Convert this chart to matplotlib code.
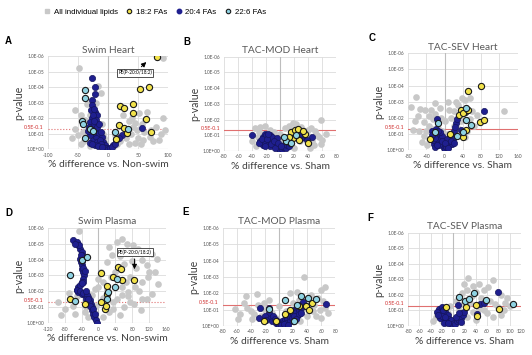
import numpy as np
import matplotlib.pyplot as plt
from matplotlib.lines import Line2D

# y values are -log10(p), x values are % difference
A_gray = [(-49, 5.2), (92, 5.85), (-17, 4.1), (-12, 3.6), (-55, 2.52), (-45, 2.2), (-38, 1.9), (-30, 2.2),
          (-10, 1.6), (92, 2.0), (57, 1.6), (80, 1.4), (48, 1.2), (60, 1.1), (40, 2.0), (35, 1.8), (25, 2.2),
          (65, 2.4), (88, 1.0), (50, 0.7), (70, 0.8), (30, 0.7), (20, 0.5), (15, 0.3), (-5, 0.4), (-15, 0.8),
          (-25, 0.6), (-40, 0.5), (-50, 0.9), (-55, 1.3), (10, 0.2), (5, 0.1), (-3, 0.1), (45, 0.4), (55, 0.3),
          (75, 0.5), (95, 1.2), (62, 1.9), (42, 1.4), (-35, 1.2), (-20, 1.2), (28, 1.3), (0, 0.05), (-45, 0.3),
          (-30, 0.2), (35, 0.3), (85, 0.6), (52, 2.3), (-8, 1.0), (18, 1.5), (72, 1.2), (-60, 0.7), (-35, 2.9),
          (-20, 3.0), (38, 1.0), (25, 0.9), (12, 0.9), (-42, 1.1), (58, 0.6), (45, 1.7), (-6, 0.7)]
A_navy = [(-27, 4.56), (-22, 4.02), (-21, 3.53), (-27, 3.16), (-27, 2.84), (-22, 2.41), (-19, 2.19), (-27, 1.98),
          (-30, 1.77), (-24, 1.55), (-22, 1.23), (-16, 1.0), (-10, 0.8), (-8, 0.48), (-5, 0.26), (-2, 0.05),
          (9, 0.26), (14, 0.58), (23, 0.9), (56, 1.33), (-29, 2.5), (-25, 2.2), (-20, 1.9), (-32, 1.4),
          (-28, 1.2), (-25, 0.95), (-30, 0.9), (-20, 0.7), (-26, 0.5), (-18, 0.45), (-14, 0.6), (-12, 0.3),
          (-22, 0.25), (-16, 0.2), (-8, 0.15), (-4, 0.1), (0, 0.02), (3, 0.08), (6, 0.15), (-18, 1.4),
          (-15, 1.6), (-24, 1.8), (-12, 1.1), (-30, 0.4), (-10, 0.15), (12, 0.35), (18, 0.7), (-33, 1.15),
          (-26, 0.3), (-24, 2.6)]
A_yellow = [(81, 5.95), (53, 3.85), (68, 3.98), (20, 2.77), (26, 2.63), (42, 2.94), (41, 2.3), (64, 1.92),
            (19, 1.55), (26, 1.33), (72, 1.12), (14, 0.62), (31, 1.01)]
A_cyan = [(-38, 3.8), (-39, 3.27), (-44, 1.83), (-42, 1.6), (-38, 0.69), (12, 1.12), (34, 1.27), (-30, 1.3),
          (-25, 1.15)]

B_gray = [(59, 2.0), (19, 1.77), (22, 1.7), (-36, 1.45), (-21, 1.6), (7, 1.45), (30, 1.5), (50, 1.24),
          (40, 1.3), (-30, 1.2), (-15, 1.3), (12, 1.6), (25, 1.1), (35, 0.8), (45, 0.6), (55, 0.9), (60, 0.7),
          (-40, 0.6), (-32, 0.9), (-25, 0.4), (-10, 0.6), (5, 0.3), (15, 0.5), (20, 0.2), (28, 0.6), (38, 1.0),
          (48, 0.4), (-5, 0.9), (0, 1.1), (-18, 1.0), (10, 0.9), (33, 1.35), (-28, 1.5), (65, 1.1), (42, 0.2),
          (-35, 0.3), (52, 1.0), (44, 1.45), (16, 1.3), (-8, 1.2), (24, 1.55), (58, 0.45), (3, 0.7)]
B_navy = [(-40, 1.0), (45, 0.9), (33, 0.9), (26, 1.2), (-28, 0.6), (-25, 0.9), (-22, 1.1), (-20, 0.7),
          (-18, 0.5), (-16, 0.9), (-14, 1.0), (-12, 0.6), (-10, 0.8), (-8, 0.4), (-6, 0.6), (-4, 0.3),
          (-2, 0.15), (0, 0.05), (2, 0.1), (4, 0.25), (6, 0.35), (8, 0.2), (10, 0.4), (12, 0.3), (-24, 0.4),
          (-20, 1.0), (-15, 0.3), (-11, 0.9), (-30, 0.5), (-5, 0.8), (14, 0.5), (30, 0.8), (28, 1.0), (38, 0.7),
          (-26, 0.75), (-22, 0.45), (-18, 0.75), (-13, 0.45), (-9, 0.6), (-7, 0.2), (-3, 0.5), (1, 0.3),
          (-17, 1.1), (-21, 0.3)]
B_yellow = [(15, 1.2), (21, 1.3), (25, 1.4), (35, 1.1), (18, 0.8), (27, 0.7), (40, 0.5), (32, 1.25), (12, 0.9)]
B_cyan = [(8, 0.6), (16, 0.5), (22, 1.0), (5, 0.9)]

C_gray = [(-62, 3.29), (-73, 2.68), (-53, 2.57), (-43, 2.47), (-22, 2.26), (131, 2.4), (-69, 1.23), (-44, 1.75),
          (-30, 2.5), (-20, 2.9), (-10, 2.6), (10, 2.5), (25, 3.0), (45, 3.1), (55, 3.2), (-65, 1.8), (-55, 1.2),
          (-50, 0.5), (-35, 1.5), (-25, 1.9), (-15, 1.4), (0, 1.8), (15, 2.0), (20, 1.5), (35, 1.8), (30, 2.8),
          (40, 2.3), (60, 2.4), (65, 1.5), (50, 1.2), (-45, 0.9), (-38, 0.3), (-5, 1.2), (5, 1.0), (15, 0.6),
          (25, 0.9), (45, 0.8), (70, 2.2), (8, 3.0), (-58, 2.1), (-35, 2.1), (-8, 2.0), (20, 2.4), (38, 3.2),
          (55, 1.9), (-28, 1.3), (32, 1.3), (-40, 1.2)]
C_navy = [(87, 2.43), (-16, 1.95), (25, 1.68), (36, 1.23), (-28, 1.2), (-25, 0.9), (-22, 1.1), (-20, 0.6),
          (-18, 1.3), (-16, 0.8), (-14, 0.5), (-12, 1.0), (-10, 0.7), (-8, 0.4), (-6, 0.9), (-4, 0.3),
          (-2, 0.15), (0, 0.05), (3, 0.2), (6, 0.4), (9, 0.6), (12, 0.8), (15, 1.0), (18, 0.7), (20, 1.2),
          (23, 1.45), (-24, 0.4), (-30, 0.7), (-20, 0.2), (10, 0.3), (28, 1.9), (-12, 0.3), (5, 0.7), (16, 0.4),
          (-26, 0.6), (-22, 0.75), (-17, 0.35), (-9, 1.1), (-6, 0.55), (2, 0.45), (8, 0.15), (13, 0.55),
          (20, 0.45), (-28, 0.95), (-14, 1.2)]
C_yellow = [(80, 3.95), (51, 3.66), (35, 2.47), (45, 2.37), (32, 2.15), (40, 2.3), (51, 2.47), (78, 1.75),
            (87, 1.85), (11, 1.0), (40, 0.82), (-33, 0.7), (46, 1.23)]
C_cyan = [(46, 2.63), (-15, 1.7), (46, 1.89), (58, 1.54), (-22, 1.13), (28, 0.9), (40, 1.1)]

D_gray = [(-47, 5.8), (43, 5.12), (55, 5.33), (67, 5.01), (82, 4.9), (94, 4.7), (110, 4.49), (126, 4.38),
          (138, 4.06), (102, 3.96), (114, 3.64), (134, 3.22), (118, 2.9), (142, 2.48), (102, 2.59), (86, 2.27),
          (71, 1.96), (55, 1.75), (75, 1.33), (102, 1.54), (126, 1.85), (31, 4.27), (19, 3.85), (-1, 2.8),
          (-8, 2.17), (-16, 1.75), (-32, 0.7), (-80, 0.9), (-88, 0.49), (-95, 1.33), (24, 4.8), (60, 3.7),
          (75, 2.9), (40, 3.2), (55, 2.3), (95, 2.0), (115, 1.5), (70, 1.7), (30, 2.9), (20, 2.1), (45, 1.5),
          (85, 1.2), (60, 1.0), (35, 0.9), (100, 0.8), (10, 1.6), (0, 2.3), (-20, 1.8), (-30, 1.0), (-60, 1.1),
          (-70, 1.9), (-55, 0.6), (-25, 0.4), (10, 0.4), (25, 0.7), (50, 0.5), (5, 3.2), (-5, 1.1), (90, 3.5),
          (120, 3.2), (50, 4.2), (80, 3.9), (65, 2.6), (35, 1.3), (10, 2.6), (-50, 1.7)]
D_navy = [(-60, 5.22), (-52, 5.12), (-48, 4.9), (-44, 4.7), (-40, 4.49), (-40, 4.28), (-44, 4.06), (-42, 3.85),
          (-40, 3.64), (-38, 3.43), (-36, 3.22), (-34, 3.01), (-36, 2.8), (-40, 2.59), (-48, 2.27), (-52, 2.06),
          (-48, 1.96), (-40, 1.85), (-32, 1.75), (-24, 1.64), (-20, 1.43), (-18, 1.22), (-16, 1.01), (-15, 0.8),
          (-12, 0.59), (-10, 0.38), (-7, 0.17), (-4, 0.03), (-50, 2.1), (-44, 2.0), (-36, 1.9), (-28, 1.8),
          (-44, 2.4), (-36, 2.6), (-30, 1.5), (-22, 1.3), (-26, 1.5), (-20, 1.1), (-12, 0.9), (-8, 0.6),
          (-46, 4.9), (-56, 5.0), (-42, 4.3), (-38, 3.9), (-36, 3.5), (-33, 3.3), (-38, 2.5), (-30, 2.0)]
D_yellow = [(7, 3.18), (47, 3.54), (53, 3.43), (35, 2.9), (55, 2.7), (85, 2.7), (19, 2.34), (19, 1.85),
            (-68, 1.54), (-32, 1.22), (7, 1.33), (15, 0.86), (18, 1.1)]
D_cyan = [(-40, 3.96), (-28, 4.17), (-68, 3.01), (-56, 1.37), (23, 1.96), (43, 2.8), (39, 2.27), (20, 1.54)]

E_gray = [(36, 3.0), (66, 2.38), (60, 2.2), (-47, 1.84), (-32, 1.97), (-63, 1.05), (-55, 0.7), (-40, 0.9),
          (-30, 1.3), (-20, 1.0), (-50, 1.4), (-38, 0.4), (-25, 0.6), (-10, 0.8), (0, 1.2), (10, 0.9),
          (20, 1.4), (28, 1.6), (45, 1.9), (50, 1.3), (55, 1.7), (65, 1.1), (70, 0.8), (60, 0.5), (40, 0.6),
          (30, 0.3), (-15, 1.6), (15, 2.0), (25, 2.1), (-5, 0.5), (5, 0.3), (35, 1.1), (48, 0.9), (58, 1.0),
          (-45, 1.1), (-35, 0.7), (-22, 1.4), (42, 1.4), (62, 1.5), (52, 0.6), (-58, 0.4), (18, 1.0)]
E_navy = [(67, 1.35), (-27, 1.09), (-28, 0.47), (-15, 0.8), (-12, 0.5), (-10, 0.3), (-8, 0.6), (-5, 0.2),
          (-2, 0.1), (0, 0.05), (2, 0.15), (4, 0.3), (6, 0.2), (8, 0.45), (10, 0.6), (12, 0.4), (14, 0.75),
          (16, 0.55), (18, 0.9), (20, 0.7), (22, 1.0), (24, 0.85), (26, 1.15), (28, 0.95), (30, 1.3),
          (32, 1.1), (34, 1.45), (-20, 0.6), (-18, 0.35), (20, 0.3), (26, 0.6), (10, 0.2), (-14, 1.1), (38, 1.2),
          (-6, 0.4), (-3, 0.3), (3, 0.05), (7, 0.1), (15, 0.3), (18, 0.5), (22, 0.6), (28, 0.7), (32, 0.8),
          (13, 0.05), (24, 0.4)]
E_yellow = [(-22, 0.27), (16, 1.0), (38, 1.23), (47, 1.43), (-4, 0.3), (8, 0.7), (28, 1.2), (42, 1.0)]
E_cyan = [(9, 1.6), (32, 1.8), (41, 1.7), (52, 1.64), (-14, 1.05), (21, 0.27), (25, 1.3)]

F_gray = [(27, 3.09), (71, 2.94), (20, 2.7), (35, 2.6), (40, 2.2), (55, 2.3), (62, 2.5), (85, 2.0), (95, 1.8),
          (50, 1.8), (15, 2.1), (5, 1.6), (-5, 1.3), (-15, 1.1), (-25, 0.9), (-30, 0.6), (-35, 0.3), (30, 1.5),
          (45, 1.1), (60, 0.8), (75, 1.4), (90, 1.0), (100, 1.3), (70, 0.6), (40, 0.4), (25, 0.6), (-20, 0.3),
          (10, 1.0), (65, 1.6), (80, 1.2), (55, 1.0), (33, 1.9), (25, 2.3), (45, 2.7), (18, 1.4), (50, 1.4),
          (-10, 0.8), (35, 0.9), (85, 0.7), (92, 1.5)]
F_navy = [(80, 2.18), (8, 1.36), (42, 0.78), (47, 1.43), (55, 1.45), (-25, 1.1), (-22, 0.8), (-20, 1.2),
          (-18, 0.5), (-15, 0.9), (-12, 0.3), (-10, 0.7), (-8, 0.45), (-6, 0.2), (-4, 0.35), (-2, 0.1), (0, 0.05),
          (2, 0.2), (4, 0.1), (6, 0.3), (8, 0.45), (10, 0.35), (12, 0.6), (14, 0.5), (16, 0.8), (18, 0.7),
          (-24, 0.5), (-16, 0.2), (5, 0.6), (-28, 0.9), (-20, 0.65), (-14, 0.55), (-10, 0.2), (-26, 0.7),
          (-18, 1.0), (14, 0.25), (20, 0.9), (11, 0.8)]
F_yellow = [(-12, 1.25), (23, 1.21), (40, 1.36), (82, 1.08), (43, 0.65)]
F_cyan = [(10, 1.84), (21, 1.62), (28, 1.73), (37, 2.12), (59, 1.68), (106, 1.4)]

TITLES = ["Swim Heart", "TAC-MOD Heart", "TAC-SEV Heart", "Swim Plasma", "TAC-MOD Plasma", "TAC-SEV Plasma"]
LETTERS = ["A", "B", "C", "D", "E", "F"]
XLABELS = ["% difference vs. Non-swim", "% difference vs. Sham", "% difference vs. Sham",
           "% difference vs. Non-swim", "% difference vs. Sham", "% difference vs. Sham"]
XTICKS = [np.arange(-100, 101, 50), np.arange(-80, 81, 20), np.arange(-80, 161, 40),
          np.arange(-120, 161, 40), np.arange(-80, 81, 20), np.arange(-80, 121, 20)]
YTICK_LABELS = ["1.0E+00", "1.0E-01", "1.0E-02", "1.0E-03", "1.0E-04", "1.0E-05", "1.0E-06"]
SIG_LINE = 1.3  # p = 0.05
ANNOT = "PE(P-20:0/18:2)"

panel_data = [
    (A_gray, A_navy, A_yellow, A_cyan), (B_gray, B_navy, B_yellow, B_cyan), (C_gray, C_navy, C_yellow, C_cyan),
    (D_gray, D_navy, D_yellow, D_cyan), (E_gray, E_navy, E_yellow, E_cyan), (F_gray, F_navy, F_yellow, F_cyan),
]

# axes rectangles in figure fraction
rects = [(0.090, 0.580, 0.226, 0.262), (0.421, 0.575, 0.211, 0.265), (0.767, 0.577, 0.206, 0.273),
         (0.090, 0.090, 0.222, 0.268), (0.419, 0.082, 0.211, 0.276), (0.767, 0.082, 0.212, 0.262)]

GRAY = '#c8c8c8'
NAVY = '#1f1f8f'
YELLOW = '#f2e24a'
CYAN = '#8fd3e3'
EDGE = '#1a1a1a'
MS = 20

plt.rcParams['font.family'] = ['Lato', 'DejaVu Sans']
fig = plt.figure(figsize=(5.32, 3.55), dpi=100)

for i, (rect, data) in enumerate(zip(rects, panel_data)):
    ax = fig.add_axes(rect)
    gray, navy, yellow, cyan = [np.array(d, dtype=float) for d in data]
    ax.scatter(gray[:, 0], gray[:, 1], s=MS + 3, color=GRAY, linewidths=0, zorder=2)
    ax.scatter(navy[:, 0], navy[:, 1], s=MS, color=NAVY, edgecolors='#15155e', linewidths=0.5, zorder=3)
    ax.scatter(yellow[:, 0], yellow[:, 1], s=MS, color=YELLOW, edgecolors=EDGE, linewidths=0.8, zorder=4)
    ax.scatter(cyan[:, 0], cyan[:, 1], s=MS, color=CYAN, edgecolors=EDGE, linewidths=0.8, zorder=4)

    xt = XTICKS[i]
    ax.set_xlim(xt[0], xt[-1])
    ax.set_ylim(0, 6)
    ax.set_xticks(xt)
    ax.set_xticklabels([str(v) for v in xt], fontsize=3.6, color='#555555')
    ax.set_yticks(range(7))
    ax.set_yticklabels(YTICK_LABELS, fontsize=3.4, color='#555555')
    ax.tick_params(length=0, pad=2.5)
    for s in ax.spines.values():
        s.set_visible(False)
    ax.grid(True, color='#dcdcdc', linewidth=0.6, zorder=0)
    ax.set_axisbelow(True)
    ax.axvline(0, color='#bdbdbd', linewidth=0.8, zorder=1)
    ax.axhline(0, color='#bdbdbd', linewidth=0.8, zorder=1)

    ls = ':' if i in (0, 3) else '-'
    ax.axhline(SIG_LINE, color='#e07070', linewidth=0.8, linestyle=ls, zorder=1)
    ax.text(-0.035, SIG_LINE + 0.12, "0.5E-0.1", transform=ax.get_yaxis_transform(), ha='right',
            va='center', fontsize=3.8, color='#d03030')

    ax.set_title(TITLES[i], fontsize=7.3, color='#595959', pad=2.5)
    ax.set_xlabel(XLABELS[i], fontsize=7.4, color='#404040', labelpad=2)
    ax.set_ylabel("p-value", fontsize=7.6, color='#404040', labelpad=2)
    ax.text(-0.36, 1.13, LETTERS[i], transform=ax.transAxes, fontsize=7, fontweight='bold',
            family='Liberation Sans')

    if i == 0:
        ax.annotate(ANNOT, xy=(67, 5.74), xytext=(45, 4.92), fontsize=3.4, ha='center', va='center',
                    bbox=dict(boxstyle='square,pad=0.25', fc='white', ec='#333333', lw=0.6),
                    arrowprops=dict(arrowstyle='-|>', color='black', lw=0.7, mutation_scale=7), zorder=6)
    if i == 3:
        ax.annotate(ANNOT, xy=(85, 3.22), xytext=(86, 4.48), fontsize=3.4, ha='center', va='center',
                    bbox=dict(boxstyle='square,pad=0.25', fc='white', ec='#333333', lw=0.6),
                    arrowprops=dict(arrowstyle='-|>', color='black', lw=0.7, mutation_scale=7), zorder=6)

handles = [
    Line2D([], [], marker='s', linestyle='', markersize=3.2, color=GRAY),
    Line2D([], [], marker='o', linestyle='', markersize=3.2, markerfacecolor=YELLOW, markeredgecolor=EDGE, markeredgewidth=0.8),
    Line2D([], [], marker='o', linestyle='', markersize=3.2, markerfacecolor=NAVY, markeredgecolor=NAVY),
    Line2D([], [], marker='o', linestyle='', markersize=3.2, markerfacecolor=CYAN, markeredgecolor=EDGE, markeredgewidth=0.8),
]
fig.legend(handles, ["All individual lipids", "18:2 FAs", "20:4 FAs", "22:6 FAs"], loc='center left',
           bbox_to_anchor=(0.068, 0.966), ncol=4, frameon=False, prop={'family': 'Liberation Sans', 'size': 5.7},
           handletextpad=0.3, columnspacing=1.0, handlelength=1.0)

fig.savefig('out.png', dpi=100)
